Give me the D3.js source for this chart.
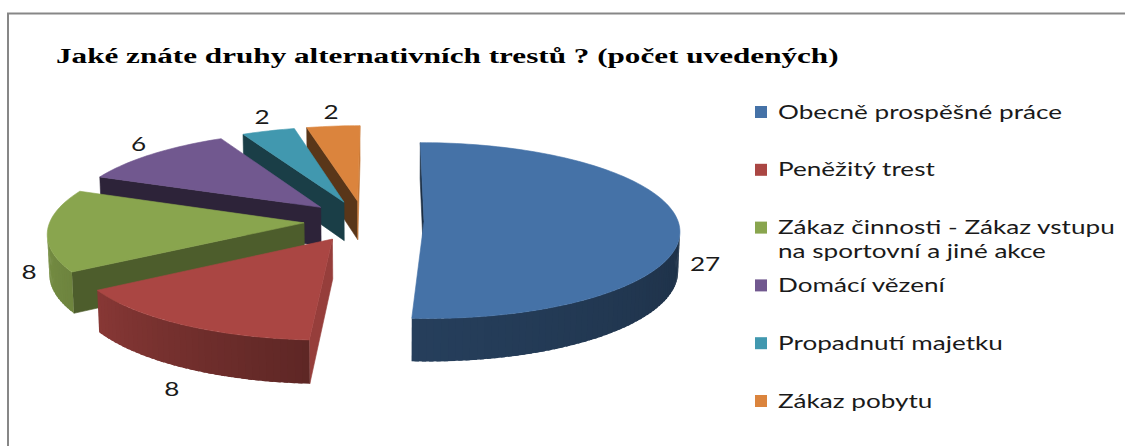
<!DOCTYPE html>
<html>
<head>
<meta charset="utf-8">
<script src="https://cdn.jsdelivr.net/npm/d3@7"></script>
<style>
	body { margin: 0; background: #fff; }
	svg { display: block; }
</style>
</head>
<body>
<svg id="chart" width="1125" height="446"></svg>
<script>
var title = "Jaké znáte druhy alternativních trestů ? (počet uvedených)";
var categories = ["Obecně prospěšné práce", "Peněžitý trest", "Zákaz činnosti - Zákaz vstupu na sportovní a jiné akce", "Domácí vězení", "Propadnutí majetku", "Zákaz pobytu"];
var legendLines = [["Obecně prospěšné práce"], ["Peněžitý trest"], ["Zákaz činnosti - Zákaz vstupu", "na sportovní a jiné akce"], ["Domácí vězení"], ["Propadnutí majetku"], ["Zákaz pobytu"]];
var counts = [27, 8, 8, 6, 2, 2];
var colors = ["#4572A7", "#AA4643", "#89A54E", "#71588F", "#4198AF", "#DB843D"];

var svg = d3.select("#chart");

// frame of the chart area (left and top edge only are visible)
svg.append("path")
	.attr("d", "M8,446V13.5H1125")
	.attr("fill", "none")
	.attr("stroke", "#878787")
	.attr("stroke-width", 2);

// title, stretched a bit like the original
var titleG = svg.append("g");
var titleText = titleG.append("text")
	.attr("font-family", "'Liberation Serif', 'Times New Roman', serif")
	.attr("font-weight", "bold")
	.attr("font-size", 21)
	.attr("fill", "#000")
	.text(title);
var tW = titleText.node().getComputedTextLength();
titleG.attr("transform", "translate(56,63) scale(" + (783 / tW) + ",1)");

// ---- 3d pie ----
var cx = 364, cy = 221;
var R = 254, explode = 60, thick = 42;
var tilt = 20 * Math.PI / 180, dist = 2350, camX = 20;
var cam = [camX, dist * Math.sin(tilt), dist * Math.cos(tilt)];

function project(p) {
	var d = dist - (p[1] * Math.sin(tilt) + p[2] * Math.cos(tilt));
	var s = dist / d;
	return [cx + camX + (p[0] - camX) * s, cy - (p[1] * Math.cos(tilt) - p[2] * Math.sin(tilt)) * s];
}

function facing(n, p) {
	return n[0] * (cam[0] - p[0]) + n[1] * (cam[1] - p[1]) + n[2] * (cam[2] - p[2]) > 0;
}

function normalAngle(n) {
	var a = Math.atan2(n[0], -n[2]) * 180 / Math.PI;
	return (a + 360) % 360;
}

var outerShade = d3.scaleLinear().domain([90, 183, 238, 270, 360]).range([0.42, 0.55, 0.8, 0.88, 0.88]).clamp(true);
var radialShade = d3.scaleLinear().domain([0, 90, 150, 200, 360]).range([0.9, 0.9, 0.55, 0.4, 0.42]).clamp(true);

function shade(col, f) {
	var c = d3.rgb(col);
	return d3.rgb(c.r * f, c.g * f, c.b * f).toString();
}

var pie = d3.pie().sort(null).value(function(d) { return d; });
var arcs = pie(counts);
var line = d3.line().curve(d3.curveLinearClosed);

arcs.forEach(function(d, i) {
	var mid = (d.startAngle + d.endAngle) / 2;
	d.mid = mid;
	d.ox = explode * Math.sin(mid);
	d.oz = -explode * Math.cos(mid);
	d.color = colors[i];
	d.sortZ = d.oz - (R / 2) * Math.cos(mid);
});

function pt(d, a, r, y) {
	return [d.ox + r * Math.sin(a), y, d.oz - r * Math.cos(a)];
}

var pieG = svg.append("g").attr("class", "pie");

arcs.slice().sort(function(a, b) { return a.sortZ - b.sortZ; }).forEach(function(d) {
	var g = pieG.append("g");
	var faces = [];

	// radial walls
	[[d.startAngle, d.startAngle - Math.PI / 2], [d.endAngle, d.endAngle + Math.PI / 2]].forEach(function(w) {
		var a = w[0];
		var n = [Math.sin(w[1]), 0, -Math.cos(w[1])];
		var poly = [pt(d, a, 0, 0), pt(d, a, R, 0), pt(d, a, R, -thick), pt(d, a, 0, -thick)];
		if (facing(n, pt(d, a, R / 2, -thick / 2))) {
			faces.push({ poly: poly, fill: shade(d.color, radialShade(normalAngle(n))), stroke: true });
		}
	});

	// outer curved wall in small pieces, overlapping a little to hide seams
	var steps = Math.max(2, Math.ceil((d.endAngle - d.startAngle) / (1.5 * Math.PI / 180)));
	var da = (d.endAngle - d.startAngle) / steps;
	for (var k = 0; k < steps; k++) {
		var a0 = d.startAngle + k * da, a1 = Math.min(d.endAngle, a0 + da * 1.6), m = a0 + da / 2;
		var n = [Math.sin(m), 0, -Math.cos(m)];
		if (facing(n, pt(d, m, R, -thick / 2))) {
			faces.push({
				poly: [pt(d, a0, R, 0), pt(d, a1, R, 0), pt(d, a1, R, -thick), pt(d, a0, R, -thick)],
				fill: shade(d.color, outerShade(normalAngle(n))),
				stroke: false
			});
		}
	}

	// top face
	var top = [[d.ox, 0, d.oz]];
	for (var j = 0; j <= steps; j++) {
		top.push(pt(d, d.startAngle + j * da, R, 0));
	}
	faces.push({ poly: top, fill: d.color, stroke: true });

	faces.forEach(function(f) {
		g.append("path")
			.attr("d", line(f.poly.map(project)))
			.attr("fill", f.fill)
			.attr("stroke", f.stroke ? f.fill : "none")
			.attr("stroke-width", 0.6)
			.attr("stroke-linejoin", "round");
	});
});

var labelFont = "Lato, 'Open Sans', sans-serif";

// ---- legend ----
var legendY = d3.scaleLinear().domain([0, 5]).range([112, 401]);
var legend = svg.append("g").attr("class", "legend");

var items = legend.selectAll("g.item")
	.data(categories)
	.enter().append("g")
	.attr("class", "item");

items.append("rect")
	.attr("x", 755)
	.attr("y", function(d, i) { return legendY(i) - 6; })
	.attr("width", 12)
	.attr("height", 12)
	.attr("fill", function(d, i) { return colors[i]; });

var textGroups = items.append("g");
textGroups.each(function(d, i) {
	var tg = d3.select(this);
	legendLines[i].forEach(function(l, j) {
		tg.append("text")
			.attr("x", 0)
			.attr("y", j * 24)
			.attr("dy", ".35em")
			.attr("font-family", labelFont)
			.attr("font-size", 19)
			.attr("fill", "#1a1a1a")
			.text(l);
	});
});

var w0 = textGroups.select("text").node().getComputedTextLength();
var stretch = 284 / w0;
textGroups.attr("transform", function(d, i) {
	return "translate(778," + legendY(i) + ") scale(" + stretch + ",1)";
});

// ---- data labels ----
var labels = svg.append("g").attr("class", "labels");
arcs.forEach(function(d) {
	var front = -Math.cos(d.mid) >= 0;
	var p = project(pt(d, d.mid, R * 1.05, front ? -thick : 0));
	var g = labels.append("g");
	var t = g.append("text")
		.attr("text-anchor", "middle")
		.attr("dy", ".35em")
		.attr("font-family", labelFont)
		.attr("font-size", 19)
		.attr("fill", "#1a1a1a")
		.text(d.data);
	var w = t.node().getComputedTextLength() * stretch;
	var x = p[0] + Math.sin(d.mid) * w / 2;
	var y = p[1] - Math.cos(d.mid) * (front ? 19 : 11);
	g.attr("transform", "translate(" + x + "," + y + ") scale(" + stretch + ",1)");
});
</script>
</body>
</html>
